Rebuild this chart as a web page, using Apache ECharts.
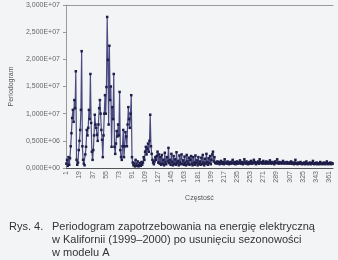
<!DOCTYPE html>
<html><head><meta charset="utf-8">
<script src="https://cdn.jsdelivr.net/npm/echarts@6/dist/echarts.min.js"></script>
<style>html,body{margin:0;padding:0;background:#f3f4f6;} #c{width:338px;height:260px;}</style>
</head><body><div id="c"></div>
<script>
// Periodogram values in millions (x 1e6), frequencies 1..130
const lowFreqMln = [
  0.8, 1.5, 0.4, 2.0, 0.6, 1.8, 4.0, 6.4, 9.2, 10.7,
  8.5, 12.5, 11.0, 17.8, 1.5, 0.6, 1.0, 3.3, 5.0, 7.0,
  10.7, 21.5, 4.0, 1.5, 0.8, 0.5, 2.5, 3.9, 7.0, 6.0,
  7.4, 10.7, 9.0, 17.3, 8.3, 3.0, 1.5, 3.3, 6.0, 9.8,
  8.0, 7.4, 6.1, 5.0, 8.0, 11.0, 12.5, 10.0, 7.0, 5.2,
  2.0, 6.0, 10.0, 13.4, 10.0, 14.9, 27.8, 19.9, 8.0, 22.5,
  12.5, 15.0, 3.9, 11.2, 9.0, 17.3, 3.9, 2.6, 4.5, 6.8,
  5.8, 8.0, 6.0, 14.0, 3.3, 2.0, 1.5, 4.0, 7.0, 2.0,
  4.0, 6.6, 5.8, 4.0, 8.0, 11.2, 9.0, 7.4, 10.0, 13.4,
  2.0, 1.0, 0.5, 0.8, 0.3, 1.5, 0.6, 0.4, 1.2, 0.3,
  0.5, 0.9, 0.4, 1.1, 0.6, 1.0, 2.0, 1.5, 3.0, 3.9,
  2.5, 3.5, 4.5, 3.0, 5.0, 9.8, 4.0, 2.6, 1.5, 1.0,
  0.7, 1.2, 2.0, 1.5, 2.2, 3.0, 1.0, 2.5, 0.8, 2.0
];
// frequencies 131..205
const midFreqMln = [
  0.6, 2.4, 0.8, 1.5, 0.5, 2.8, 1.0, 0.7, 2.0, 1.2,
  3.7, 0.9, 1.5, 0.6, 2.6, 1.1, 0.5, 2.2, 0.8, 1.6,
  0.6, 2.9, 0.9, 1.3, 0.5, 2.3, 1.0, 0.7, 2.5, 0.8,
  1.4, 0.6, 2.1, 0.9, 0.5, 2.4, 1.2, 0.7, 1.9, 0.6,
  1.5, 2.2, 0.8, 0.5, 2.0, 1.0, 0.6, 2.3, 0.9, 1.4,
  0.5, 2.0, 0.8, 1.2, 0.6, 1.9, 0.7, 2.4, 1.0, 0.5,
  1.7, 0.8, 2.6, 1.1, 0.6, 1.8, 0.9, 2.2, 0.7, 1.5,
  2.5, 3.0, 1.2, 2.0, 0.9
];
// frequencies 206..366
const highFreqMln = [
  1.0, 0.8, 1.2, 0.9, 1.1, 0.7, 1.0, 1.3, 0.8, 0.9,
  1.1, 0.7, 1.6, 0.9, 1.0, 0.8, 1.2, 0.9, 0.7, 1.0,
  1.1, 0.8, 0.9, 1.5, 1.0, 0.8, 1.1, 0.7, 0.9, 1.2,
  0.8, 1.0, 0.9, 1.4, 0.8, 1.0, 1.1, 0.7, 0.9, 1.6,
  1.0, 0.8, 1.2, 0.9, 0.7, 1.0, 1.1, 0.8, 1.3, 0.9,
  0.8, 1.0, 1.5, 0.9, 1.1, 0.7, 1.0, 0.9, 1.2, 0.8,
  1.6, 1.0, 0.9, 1.1, 0.8, 1.3, 0.9, 1.0, 0.8, 1.2,
  0.9, 1.1, 0.8, 1.0, 1.4, 0.9, 0.8, 1.1, 0.9, 1.0,
  0.7, 1.2, 0.9, 1.0, 1.6, 0.9, 0.8, 1.1, 0.9, 1.0,
  0.8, 1.0, 1.3, 0.9, 0.8, 1.0, 0.9, 1.1, 0.8, 0.9,
  1.0, 0.8, 0.9, 1.2, 0.8, 0.9, 1.0, 0.7, 0.9, 1.5,
  0.8, 0.9, 0.7, 1.0, 0.8, 0.9, 1.1, 0.8, 0.7, 0.9,
  0.8, 1.0, 0.7, 0.9, 1.2, 0.8, 0.7, 0.9, 0.8, 1.0,
  0.7, 0.9, 0.8, 1.3, 0.8, 0.7, 0.9, 0.8, 1.0, 0.7,
  0.8, 0.9, 0.7, 1.1, 0.8, 0.9, 0.7, 0.8, 1.0, 0.8,
  0.7, 0.9, 1.2, 0.8, 0.7, 0.9, 0.8, 1.0, 0.7, 0.9, 0.8
];
const yTickValues = [0, 5, 10, 15, 20, 25, 30];
const yTickLabels = ["0,000E+00", "0,500E+06", "1,000E+07", "1,500E+07", "2,000E+07", "2,500E+07", "3,000E+07"];
const xAxisTitle = "Częstość";
const yAxisTitle = "Periodogram";
const captionLabel = "Rys. 4.";
const captionText = "Periodogram zapotrzebowania na energię elektryczną\nw Kalifornii (1999–2000) po usunięciu sezonowości\nw modelu A";

const values = lowFreqMln.concat(midFreqMln, highFreqMln);
const categories = values.map((v, i) => String(i + 1));

const chart = echarts.init(document.getElementById('c'), null, {renderer: 'canvas'});
const font = "'Liberation Sans', Arial, sans-serif";
chart.setOption({
  backgroundColor: '#f3f4f6',
  animation: false,
  textStyle: {fontFamily: font},
  title: [
    {text: captionLabel, left: 4, top: 215, textStyle: {fontSize: 11, fontWeight: 'normal', color: '#333', fontFamily: font, lineHeight: 13}},
    {text: captionText, left: 47, top: 215, textStyle: {fontSize: 11, fontWeight: 'normal', color: '#333', fontFamily: font, lineHeight: 13}}
  ],
  grid: {left: 57, right: 5, top: 5, bottom: 92},
  xAxis: [{
    type: 'category', data: categories, boundaryGap: true,
    name: xAxisTitle, nameLocation: 'middle', nameGap: 27,
    nameTextStyle: {fontSize: 7, color: '#555', fontFamily: font},
    axisLine: {lineStyle: {color: '#555', width: 1}},
    axisTick: {interval: 17, length: 3, lineStyle: {color: '#777'}},
    axisLabel: {interval: 17, rotate: 90, fontSize: 7, color: '#666', margin: 3, fontFamily: font}
  }, {
    type: 'category', position: 'top', data: categories,
    axisLine: {lineStyle: {color: '#999'}}, axisTick: {show: false}, axisLabel: {show: false}
  }],
  yAxis: {
    type: 'value', min: 0, max: 30, interval: 5,
    name: yAxisTitle, nameLocation: 'middle', nameGap: 49,
    nameTextStyle: {fontSize: 7, color: '#555', fontFamily: font},
    axisLine: {show: true, lineStyle: {color: '#999'}},
    axisTick: {show: true, length: 3, lineStyle: {color: '#999'}},
    splitLine: {show: false},
    axisLabel: {fontSize: 7, color: '#666', margin: 6, fontFamily: font,
      formatter: v => yTickLabels[yTickValues.indexOf(v)]}
  },
  series: [{
    type: 'line', data: values, symbol: 'rect', symbolSize: 2.5, showAllSymbol: true,
    lineStyle: {color: '#4a4a80', width: 1.2},
    itemStyle: {color: '#1e1e48'}
  }]
});
</script>
</body></html>
